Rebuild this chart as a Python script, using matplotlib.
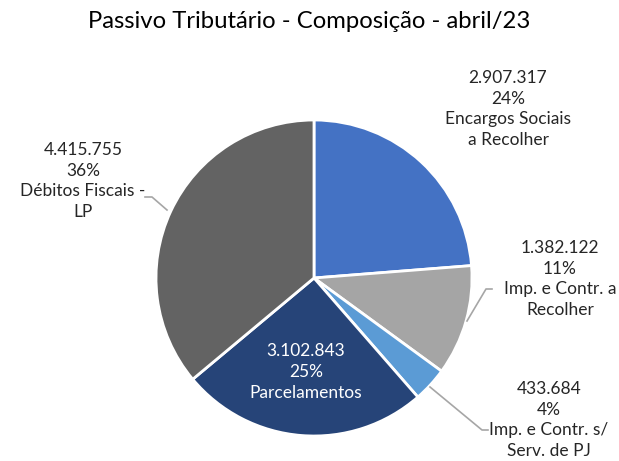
import matplotlib
matplotlib.use("Agg")
import matplotlib.pyplot as plt

categories = ["Encargos Sociais\na Recolher", "Imp. e Contr. a\nRecolher",
              "Imp. e Contr. s/\nServ. de PJ", "Parcelamentos", "Débitos Fiscais -\nLP"]
values = [2907317, 1382122, 433684, 3102843, 4415755]
colors = ["#4472C4", "#A5A5A5", "#5B9BD5", "#264478", "#636363"]

plt.rcParams['font.family'] = ['Lato', 'DejaVu Sans']

W, H = 619, 461
fig = plt.figure(figsize=(W / 100, H / 100), dpi=100)
ax = fig.add_axes([0, 0, 1, 1])
ax.set_xlim(0, W)
ax.set_ylim(0, H)
ax.set_aspect('equal')
ax.axis('off')

cx, cy, r = 314, H - 278, 158
ax.pie(values, colors=colors, startangle=90, counterclock=False,
       center=(cx, cy), radius=r, frame=True,
       wedgeprops=dict(edgecolor='white', linewidth=2))
ax.set_xlim(0, W)
ax.set_ylim(0, H)
ax.axis('off')

total = sum(values)

def fmt(v):
    return f"{v:,}".replace(",", ".")

def lab(i):
    pct = round(values[i] / total * 100)
    return f"{fmt(values[i])}\n{pct}%\n{categories[i]}"

fs = 12.5
kw = dict(ha='center', va='center', fontsize=fs, linespacing=1.35)
label_pos = [(508, 109), (560, 279), (549, 420), (306, 372), (83, 181)]
for i, (x, y) in enumerate(label_pos):
    c = 'white' if i == 3 else '#262626'
    ax.text(x, H - y, lab(i), color=c, **kw)

# leader lines
lc = '#A6A6A6'
for pts in [[(492, 289), (486, 289), (467, 321)],
            [(488, 430), (482, 430), (430, 387)],
            [(145, 197), (152, 197), (167, 210)]]:
    ax.plot([p[0] for p in pts], [H - p[1] for p in pts], color=lc, lw=1.2)

ax.text(W / 2, H - 22, "Passivo Tributário - Composição - abril/23",
        ha='center', va='center', fontsize=17.2, color='black')

fig.savefig("out.png", dpi=100)
